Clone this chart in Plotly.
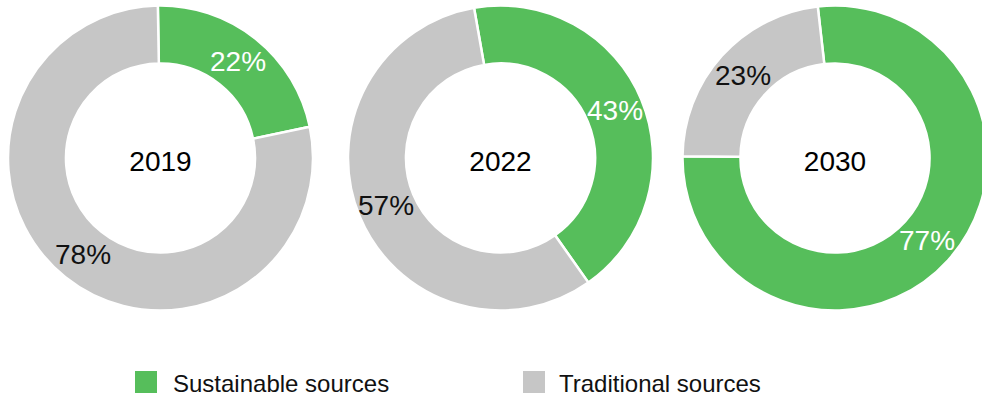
import math
import plotly.graph_objects as go

# ---- data ----
years = ["2019", "2022", "2030"]
categories = ["Sustainable sources", "Traditional sources"]
sustainable = [22, 43, 77]
traditional = [78, 57, 23]

# ---- style / layout ----
colors = ["#56BE5B", "#C6C6C6"]
text_colors = ["white", "#111111"]
FONT = "Liberation Sans, Arial, Helvetica, sans-serif"
W, H = 992, 396            # slightly wider than the window so the last donut is clipped
centers = [(160.5, 158), (500.5, 158), (835, 158)]
R = 152.5
HOLE = 0.62
rotations = [-1, -10, -6.5]

fig = go.Figure()
annotations = []
for i, yr in enumerate(years):
    cx, cy = centers[i]
    vals = [sustainable[i], traditional[i]]
    fig.add_trace(go.Pie(
        labels=categories,
        values=vals,
        sort=False,
        direction="clockwise",
        rotation=rotations[i],
        hole=HOLE,
        marker=dict(colors=colors, line=dict(color="white", width=2.5)),
        textinfo="none",
        title=dict(text=yr, position="middle center",
                   font=dict(size=28, color="black", family=FONT)),
        domain=dict(x=[(cx - R) / W, (cx + R) / W],
                    y=[1 - (cy + R) / H, 1 - (cy - R) / H]),
        hoverinfo="label+percent",
        showlegend=False,
    ))
    # value labels at the middle of each ring segment (derived from the data)
    total = sum(vals)
    rmid = R * (1 + HOLE) / 2
    cum = 0
    for j, v in enumerate(vals):
        ang = math.radians(rotations[i] + 360 * (cum + v / 2) / total)
        cum += v
        px = cx + rmid * math.sin(ang)
        py = cy - rmid * math.cos(ang)
        annotations.append(dict(text=f"{v}%", xref="paper", yref="paper",
                                x=px / W, y=1 - py / H,
                                xanchor="center", yanchor="middle", showarrow=False,
                                font=dict(size=28, color=text_colors[j], family=FONT)))

# ---- custom legend (large square swatches) ----
legend_items = [
    (categories[0], colors[0], 135, 157, 171),
    (categories[1], colors[1], 523, 545, 557),
]
shapes = []
for name, col, x0, x1, tx in legend_items:
    shapes.append(dict(type="rect", xref="paper", yref="paper",
                       x0=x0 / W, x1=x1 / W, y0=1 - 393 / H, y1=1 - 371 / H,
                       fillcolor=col, line=dict(width=0)))
    annotations.append(dict(text=name, xref="paper", yref="paper",
                            x=tx / W, y=1 - 383 / H, xanchor="left", yanchor="middle",
                            showarrow=False,
                            font=dict(size=24, color="#111111", family=FONT)))

fig.update_layout(
    width=W, height=H,
    margin=dict(l=0, r=0, t=0, b=0),
    paper_bgcolor="white", plot_bgcolor="white",
    shapes=shapes, annotations=annotations,
    font=dict(family=FONT),
)

fig.write_html(
    "out.html",
    config={"displayModeBar": False},
    post_script="document.body.style.margin='0';"
                "document.documentElement.style.overflow='hidden';"
                "document.body.style.overflow='hidden';",
)
